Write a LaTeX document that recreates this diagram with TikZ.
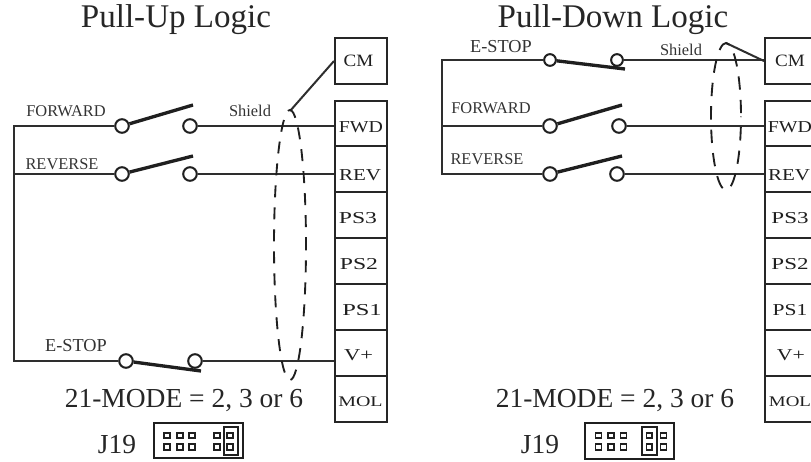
\documentclass[tikz,border=0pt]{standalone}
\usepackage{fontspec}
\setmainfont{Liberation Serif}
\tikzset{
  wire/.style={line width=1.5pt,color=black!82},
  blade/.style={line width=2.5pt,color=black!88},
  shield/.style={line width=1.4pt,color=black!88,dash pattern={on 9pt off 7.5pt}},
  contact/.style={circle,draw=black!88,line width=1.5pt,fill=white,inner sep=0pt,minimum size=10.2pt},
  termbox/.style={rectangle,draw=black!85,line width=1.5pt,inner sep=0pt,minimum width=39pt,minimum height=34.2pt},
  termtext/.style={inner sep=0pt,font=\fontsize{12.5}{13}\selectfont,color=black!88},
  cmtext/.style={termtext,font=\fontsize{13}{14}\selectfont},
  moltext/.style={termtext,font=\fontsize{11}{12}\selectfont},
  swlabel/.style={inner sep=0.75pt,font=\fontsize{12.3}{13}\selectfont,color=black!80},
  stoplabel/.style={swlabel,font=\fontsize{13.7}{14}\selectfont},
  headline/.style={inner sep=0.75pt,font=\fontsize{24.8}{26}\selectfont,color=black!85},
  modeline/.style={inner sep=0.75pt,font=\fontsize{20.6}{22}\selectfont,color=black!85},
  jumperbox/.style={line width=1.5pt,color=black!88},
  pinbox/.style={line width=1.4pt,color=black!88}
}
\begin{document}
\begin{tikzpicture}[x=0.75pt,y=0.75pt,yscale=-1,xscale=1]
\useasboundingbox (0,0) rectangle (811,461);

% Pull-Up side
\node[headline] (titleU) at (176,20) {Pull-Up Logic};
\node[termbox] (cmU) at (361,61) {};
\node[termbox] (fwdU) at (361,123.5) {};
\node[termbox] (revU) at (361,169) {};
\node[termbox] (psthreeU) at (361,215) {};
\node[termbox] (pstwoU) at (361,261) {};
\node[termbox] (psoneU) at (361,307) {};
\node[termbox] (vplusU) at (361,353) {};
\node[termbox] (molU) at (361,399) {};

% Switches
\node[contact] (fwdUa) at (122,126) {};
\node[contact] (fwdUb) at (190,126) {};
\node[contact] (revUa) at (122,174) {};
\node[contact] (revUb) at (190,174) {};
\node[contact] (stopUa) at (126,361) {};
\node[contact] (stopUb) at (195,361) {};
\coordinate (fwdUtip) at (193,105);
\coordinate (revUtip) at (193,156);
\coordinate (stopUtip) at (201,371);
\coordinate (busUtop) at (14,126);
\coordinate (busUbot) at (14,361);
\coordinate (shieldU) at (290,111);

%Straight Lines
\draw[wire] (fwdUa) -- (busUtop) -- (busUbot) -- (stopUa);
\draw[wire] (revUa) -- (revUa -| busUtop);
\draw[wire] (fwdUb) -- (fwdUb -| fwdU.west);
\draw[wire] (revUb) -- (revUb -| revU.west);
\draw[wire] (stopUb) -- (stopUb -| vplusU.west);
\draw[wire] (cmU.west) -- (shieldU);
\draw[blade] (fwdUa) -- (fwdUtip);
\draw[blade] (revUa) -- (revUtip);
\draw[blade] (stopUa) -- (stopUtip);
\draw[shield,dash phase=5pt] (290,245) ellipse [x radius=16,y radius=135];

% Text Node
\node[cmtext] (cmUtext) at (358.5,61) {\scalebox{1.1}[1]{CM}};
\node[termtext] (fwdUtext) at (361,127.5) {\scalebox{1.19}[1]{FWD}};
\node[termtext] (revUtext) at (360,175) {\scalebox{1.26}[1]{REV}};
\node[termtext] (psthreeUtext) at (358,218) {\scalebox{1.42}[1]{PS3}};
\node[termtext] (pstwoUtext) at (359,264) {\scalebox{1.42}[1]{PS2}};
\node[termtext] (psoneUtext) at (362,310) {\scalebox{1.47}[1]{PS1}};
\node[termtext] (vplusUtext) at (358.5,355) {\scalebox{1.35}[1]{V+}};
\node[moltext] (molUtext) at (360.5,401.5) {\scalebox{1.36}[1]{MOL}};
\node[swlabel] (forwardUtext) at (66,111) {FORWARD};
\node[swlabel] (reverseUtext) at (62,164) {REVERSE};
\node[stoplabel] (stopUtext) at (76,346) {E-STOP};
\node[swlabel] (shieldUtext) at (250,111) {Shield};
\node[modeline] (modeU) at (184,401) {21-MODE = 2, 3 or 6};
\node[modeline] (jU) at (117,445) {J19};

% J19 header
\draw[jumperbox] (154,423) rectangle (243,458);
\draw[jumperbox] (223.5,427) rectangle (238,455);
\draw[pinbox] (164,433) rectangle (170,438) (177,433) rectangle (183,438) (189,433) rectangle (195,438) (214,433) rectangle (220,438) (227,433) rectangle (233,438);
\draw[pinbox] (164,444) rectangle (170,450) (177,444) rectangle (183,450) (189,444) rectangle (195,450) (214,444) rectangle (220,450) (227,444) rectangle (233,450);

% Pull-Down side
\node[headline] (titleD) at (613,20) {Pull-Down Logic};
\node[termbox] (cmD) at (791,61) {};
\node[termbox] (fwdD) at (791,123.5) {};
\node[termbox] (revD) at (791,169) {};
\node[termbox] (psthreeD) at (791,215) {};
\node[termbox] (pstwoD) at (791,261) {};
\node[termbox] (psoneD) at (791,307) {};
\node[termbox] (vplusD) at (791,353) {};
\node[termbox] (molD) at (791,399) {};

% Switches
\node[contact,minimum size=8.8pt] (stopDa) at (550,60) {};
\node[contact,minimum size=8.8pt] (stopDb) at (617,60) {};
\node[contact] (fwdDa) at (550,126) {};
\node[contact] (fwdDb) at (619,126) {};
\node[contact] (revDa) at (550,174) {};
\node[contact] (revDb) at (617,174) {};
\coordinate (stopDtip) at (625,69);
\coordinate (fwdDtip) at (622,105);
\coordinate (revDtip) at (622,156);
\coordinate (busDtop) at (442,60);
\coordinate (busDbot) at (442,174);
\coordinate (shieldD) at (726,43);

%Straight Lines
\draw[wire] (stopDa) -- (busDtop) -- (busDbot) -- (revDa);
\draw[wire] (fwdDa) -- (fwdDa -| busDtop);
\draw[wire] (stopDb) -- (stopDb -| cmD.west);
\draw[wire] (fwdDb) -- (fwdDb -| fwdD.west);
\draw[wire] (revDb) -- (revDb -| revD.west);
\draw[wire] (cmD.west) -- (shieldD);
\draw[blade] (stopDa) -- (stopDtip);
\draw[blade] (fwdDa) -- (fwdDtip);
\draw[blade] (revDa) -- (revDtip);
\draw[shield,dash pattern={on 10pt off 7.6pt},dash phase=9.6pt] (726,116.5) ellipse [x radius=15,y radius=73.5];

% Text Node
\node[cmtext] (cmDtext) at (790,61) {\scalebox{1.1}[1]{CM}};
\node[termtext] (fwdDtext) at (790,127.5) {\scalebox{1.19}[1]{FWD}};
\node[termtext] (revDtext) at (789,175) {\scalebox{1.26}[1]{REV}};
\node[termtext] (psthreeDtext) at (790,218) {\scalebox{1.38}[1]{PS3}};
\node[termtext] (pstwoDtext) at (790,264) {\scalebox{1.38}[1]{PS2}};
\node[termtext] (psoneDtext) at (790,310) {\scalebox{1.29}[1]{PS1}};
\node[termtext] (vplusDtext) at (791,355) {\scalebox{1.31}[1]{V+}};
\node[moltext] (molDtext) at (790,401.5) {\scalebox{1.29}[1]{MOL}};
\node[stoplabel] (stopDtext) at (501,47) {E-STOP};
\node[swlabel] (shieldDtext) at (681,50) {Shield};
\node[swlabel] (forwardDtext) at (491,108) {FORWARD};
\node[swlabel] (reverseDtext) at (487,159) {REVERSE};
\node[modeline] (modeD) at (615,401) {21-MODE = 2, 3 or 6};
\node[modeline] (jD) at (540,445) {J19};

% J19 header
\draw[jumperbox] (585,423) rectangle (674,458.5);
\draw[jumperbox] (642,427) rectangle (656.5,455);
\draw[pinbox] (595.5,433) rectangle (601.5,438) (608,433) rectangle (614,438) (620.5,433) rectangle (626.5,438) (646.5,433) rectangle (652,438) (660.5,433) rectangle (666.5,438);
\draw[pinbox] (595.5,444) rectangle (601.5,450) (608,444) rectangle (614,450) (620.5,444) rectangle (626.5,450) (646.5,444) rectangle (652,450) (660.5,444) rectangle (666.5,450);

\end{tikzpicture}
\end{document}
